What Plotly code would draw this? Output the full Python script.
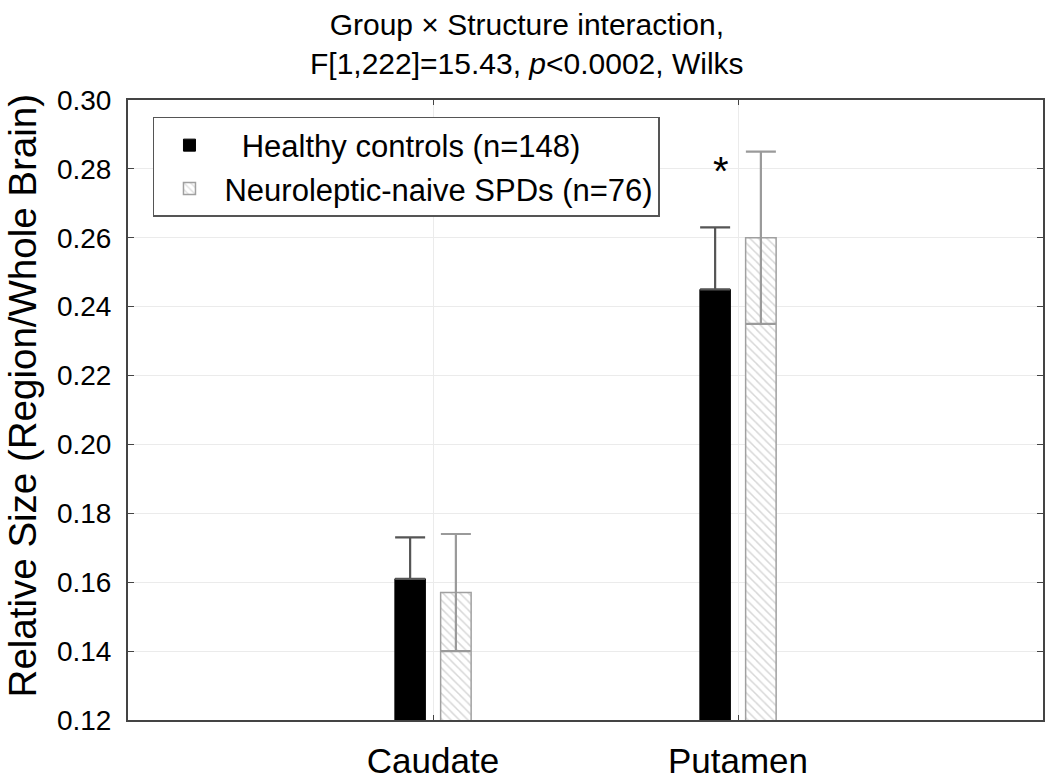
import plotly.graph_objects as go

# ---- data ----
structures = ["Caudate", "Putamen"]
controls_mean = [0.161, 0.245]
controls_se = [0.012, 0.018]
spd_mean = [0.157, 0.260]
spd_se = [0.017, 0.025]
controls_label = "\u00a0\u00a0Healthy controls (n=148)"
spd_label = "Neuroleptic-naive SPDs (n=76)"
y_ticks = [0.12, 0.14, 0.16, 0.18, 0.20, 0.22, 0.24, 0.26, 0.28, 0.30]
title_text = "Group × Structure interaction,<br>F[1,222]=15.43, <i>p</i>&lt;0.0002, Wilks"
y_title = "Relative Size (Region/Whole Brain)"

FONT = "Liberation Sans, Arial, sans-serif"

fig = go.Figure()
fig.add_trace(go.Bar(
    x=structures, y=controls_mean, name=controls_label,
    marker=dict(color="black", line=dict(color="black", width=1)),
    error_y=dict(type="data", symmetric=False, array=controls_se,
                 arrayminus=[0 for _ in controls_se],
                 color="#555555", thickness=2.2, width=15),
))
fig.add_trace(go.Bar(
    x=structures, y=spd_mean, name=spd_label,
    marker=dict(color="white",
                line=dict(color="#a0a0a0", width=1.5),
                pattern=dict(shape="\\", fgcolor="#b0b0b0", bgcolor="white",
                             size=6, solidity=0.25)),
    error_y=dict(type="data", array=spd_se, color="#9a9a9a",
                 thickness=2.2, width=15),
))

fig.add_annotation(x=0.945, y=0.2795, xref="x", yref="y", text="*",
                   showarrow=False, font=dict(size=40, color="black", family=FONT),
                   xanchor="center", yanchor="middle")

fig.add_annotation(x=-0.1158, y=0.522, xref="paper", yref="paper",
                   text=y_title, textangle=-90,
                   showarrow=False, font=dict(size=38.5, color="black", family=FONT),
                   xanchor="center", yanchor="middle")

fig.add_annotation(x=(527 - 128) / 915, y=1 + (100 - 6) / 620, xref="paper", yref="paper",
                   text=title_text, showarrow=False, align="center",
                   font=dict(size=30, color="black", family=FONT),
                   xanchor="center", yanchor="top")

fig.update_layout(
    width=1050, height=781,
    margin=dict(l=128, r=7, t=100, b=61, autoexpand=False),
    paper_bgcolor="white", plot_bgcolor="white",
    font=dict(family=FONT, color="black"),
    barmode="group", bargap=0.7, bargroupgap=1/3,
    showlegend=True,
    legend=dict(x=0.0273, y=0.9726, xanchor="left", yanchor="top",
                bgcolor="white", bordercolor="#555555", borderwidth=1.5,
                font=dict(size=31, color="black", family=FONT),
                itemwidth=60, tracegroupgap=0),
)
fig.update_xaxes(
    range=[-1, 2], showline=True, linecolor="#444444", linewidth=2, mirror="ticks",
    ticks="inside", ticklen=5, tickcolor="#444444",
    showgrid=True, gridcolor="#ebebeb", gridwidth=1,
    tickfont=dict(size=35, color="black", family=FONT), ticklabelstandoff=9,
)
fig.update_yaxes(
    range=[0.12, 0.30], tickvals=y_ticks, tickformat=".2f",
    showline=True, linecolor="#444444", linewidth=2, mirror="ticks",
    ticks="inside", ticklen=6, tickcolor="#444444",
    showgrid=True, gridcolor="#ebebeb", gridwidth=1, zeroline=False,
    tickfont=dict(size=28, color="black", family=FONT), ticklabelstandoff=9,
)

fig.write_html("out.html", config={"displayModeBar": False},
               post_script="document.body.style.margin='0px';document.body.style.overflow='hidden';")
